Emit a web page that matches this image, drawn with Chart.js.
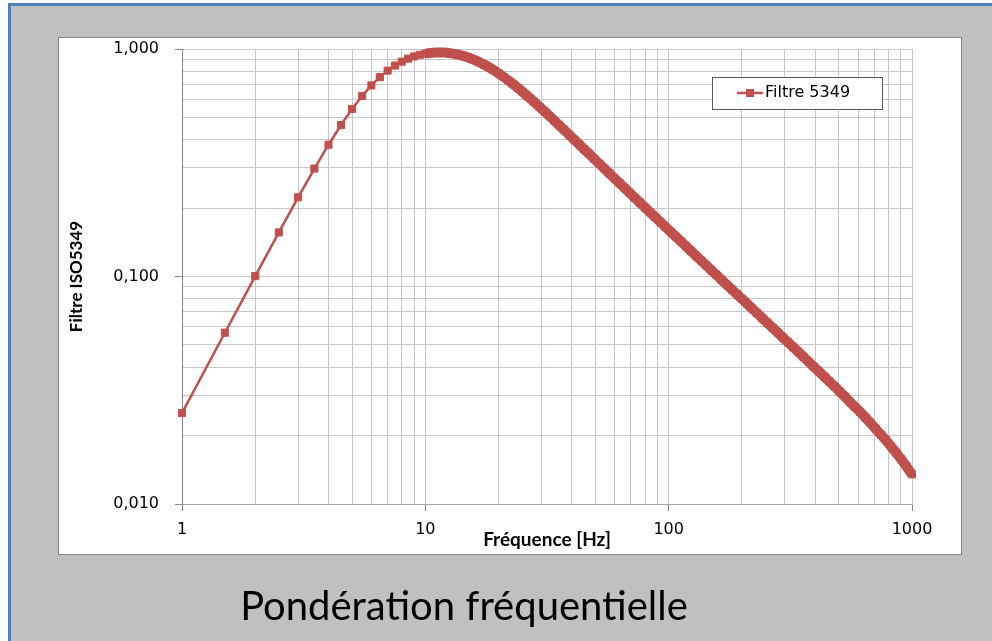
<!DOCTYPE html>
<html>
<head>
<meta charset="utf-8">
<script src="https://cdn.jsdelivr.net/npm/chart.js@4/dist/chart.umd.min.js"></script>
<style>
  html, body { margin: 0; padding: 0; background: #fff; }
  #wrap { position: relative; width: 992px; height: 641px; }
</style>
</head>
<body>
<div id="wrap"><canvas id="filtreChart" width="992" height="641"></canvas></div>
<script>
// Frequencies (Hz) and ISO 5349 weighting
const freqHz = [1, 1.5, 2, 2.5, 3, 3.5, 4, 4.5, 5, 5.5, 6, 6.5, 7, 7.5, 8, 8.5, 9, 9.5, 10, 10.5,
    11, 11.5, 12, 12.5, 13, 13.5, 14, 14.5, 15, 15.5, 16, 16.5, 17, 17.5, 18, 18.5, 19, 19.5, 20,
    21, 22, 23, 24, 25, 26, 27, 28, 29.5, 31, 32.5, 34, 35.5, 37, 39, 41, 43, 45, 47, 49.5,
    52, 54.5, 57, 60, 63, 66, 69, 72.5, 76, 80, 84, 88, 92.5, 97, 102, 107, 112, 118, 124,
    130, 136, 143, 150, 157, 165, 173, 182, 191, 200, 210, 220, 231, 243, 255, 268, 281, 295,
    310, 325, 341, 358, 376, 395, 415, 436, 457, 480, 504, 529, 556, 583, 612, 643, 675, 709,
    744, 781, 820, 861, 904, 950, 1000];

const filtre5349 = [0.0251, 0.0566, 0.1004, 0.1562, 0.2229, 0.2982, 0.3795, 0.4631, 0.5451, 0.6221,
    0.6916, 0.7521, 0.8034, 0.8457, 0.8798, 0.9069, 0.9277, 0.9431, 0.9541, 0.9612,
    0.9650, 0.9659, 0.9643, 0.9603, 0.9547, 0.9474, 0.9386, 0.9286, 0.9176, 0.9058,
    0.8932, 0.8800, 0.8664, 0.8525, 0.8383, 0.8241, 0.8098, 0.7955, 0.7813,
    0.7532, 0.7259, 0.6996, 0.6743, 0.6502, 0.6273, 0.6055, 0.5849, 0.5561, 0.5296,
    0.5052, 0.4828, 0.4621, 0.4430, 0.4198, 0.3988, 0.3797, 0.3623, 0.3465, 0.3285,
    0.3122, 0.2976, 0.2842, 0.2696, 0.2565, 0.2445, 0.2337, 0.2221, 0.2117, 0.2009,
    0.1912, 0.1824, 0.1734, 0.1652, 0.1570, 0.1497, 0.1429, 0.1356, 0.1289,
    0.1229, 0.1175, 0.1117, 0.1064, 0.1017, 0.0967, 0.0922, 0.0876, 0.0835, 0.0797,
    0.0759, 0.0724, 0.0690, 0.0655, 0.0624, 0.0594, 0.0566, 0.0539,
    0.0513, 0.0489, 0.0466, 0.0444, 0.0422, 0.0401, 0.0382, 0.0363, 0.0346, 0.0329,
    0.0312, 0.0297, 0.0281, 0.0267, 0.0254, 0.0240, 0.0227, 0.0214,
    0.0202, 0.0191, 0.0179, 0.0168, 0.0157, 0.0146, 0.0135];

// Grid lines and labelled ticks
const xGridValues = [1, 2, 3, 4, 5, 6, 7, 8, 9, 10, 20, 30, 40, 50, 60, 70, 80, 90,
    100, 200, 300, 400, 500, 600, 700, 800, 900, 1000];
const yGridValues = [0.01, 0.02, 0.03, 0.04, 0.05, 0.06, 0.07, 0.08, 0.09,
    0.1, 0.2, 0.3, 0.4, 0.5, 0.6, 0.7, 0.8, 0.9, 1];
const xTickLabels = [1, 10, 100, 1000];
const yTickLabels = [0.01, 0.1, 1];

const seriesLabel = "Filtre 5349";
const seriesColor = "#C0504D";
// above this frequency the markers sit so close they merge into one thick band
const denseFrom = 10;

// Page background: grey sheet with blue frame and white chart panel
const backdrop = {
    id: "backdrop",
    beforeDraw(chart) {
        const c = chart.ctx;
        c.save();
        c.fillStyle = "#ffffff";
        c.fillRect(0, 0, chart.width, chart.height);
        c.fillStyle = "#4f7fb4";
        c.fillRect(8, 3, chart.width - 8, chart.height - 3);
        c.fillStyle = "#c0c0c0";
        c.fillRect(11, 6, chart.width - 11, chart.height - 6);
        c.fillStyle = "#ffffff";
        c.fillRect(58, 37, 903, 517);
        c.strokeStyle = "#878787";
        c.lineWidth = 1;
        c.strokeRect(58.5, 37.5, 903, 517);
        c.restore();
    }
};

// Legend box inside the plot, top right
const boxLegend = {
    id: "boxLegend",
    afterDatasetsDraw(chart) {
        const c = chart.ctx;
        const ds = chart.data.datasets[0];
        const x = 712, y = 77, w = 170, h = 32;
        const midY = y + h / 2;
        c.save();
        c.fillStyle = "#ffffff";
        c.fillRect(x, y, w, h);
        c.strokeStyle = "#595959";
        c.lineWidth = 1;
        c.strokeRect(x + 0.5, y + 0.5, w, h);
        c.strokeStyle = ds.borderColor;
        c.lineWidth = 2.5;
        c.beginPath();
        c.moveTo(737, midY);
        c.lineTo(763, midY);
        c.stroke();
        c.fillStyle = ds.borderColor;
        c.fillRect(746, midY - 4, 8, 8);
        c.fillStyle = "#000000";
        c.font = "16px 'DejaVu Sans'";
        c.textBaseline = "middle";
        c.textAlign = "left";
        c.fillText(ds.label, 765, midY);
        c.restore();
    }
};

function tickMarkColor(labels) {
    return ctx => (ctx.tick && labels.includes(ctx.tick.value)) ? "#868686" : "rgba(0,0,0,0)";
}

const ctx = document.getElementById("filtreChart").getContext("2d");

const filtreChart = new Chart(ctx, {
    type: "line",
    data: {
        datasets: [{
            label: seriesLabel,
            data: freqHz.map((f, i) => ({ x: f, y: filtre5349[i] })),
            borderColor: seriesColor,
            backgroundColor: seriesColor,
            borderWidth: 2.5,
            borderJoinStyle: "round",
            segment: {
                borderWidth: c => c.p0.parsed.x >= denseFrom ? 10 : 2.5
            },
            pointStyle: "rect",
            pointRadius: 5,
            pointBorderWidth: 1,
            pointBackgroundColor: seriesColor,
            pointBorderColor: seriesColor,
            tension: 0,
            clip: false
        }]
    },
    plugins: [backdrop, boxLegend],
    options: {
        responsive: false,
        animation: false,
        events: [],
        layout: { padding: { top: 49, left: 16, right: 80, bottom: 0 } },
        plugins: {
            legend: { display: false },
            tooltip: { enabled: false },
            title: {
                display: true,
                position: "bottom",
                text: "Pondération fréquentielle",
                color: "#000000",
                font: { family: "Lato", size: 40, weight: "normal" },
                padding: { top: 29, bottom: 10 }
            }
        },
        scales: {
            x: {
                type: "logarithmic",
                min: 1,
                max: 1000,
                afterBuildTicks: scale => { scale.ticks = xGridValues.map(v => ({ value: v })); },
                afterFit: scale => { scale.height = 50; },
                ticks: {
                    autoSkip: false,
                    maxRotation: 0,
                    padding: 9,
                    color: "#000000",
                    font: { family: "DejaVu Sans", size: 16 },
                    callback: value => xTickLabels.includes(value) ? String(value) : ""
                },
                grid: {
                    color: "#c6c6c6",
                    lineWidth: 1,
                    tickLength: 7,
                    tickColor: tickMarkColor(xTickLabels)
                },
                border: { color: "#a6a6a6", width: 1 },
                title: {
                    display: true,
                    text: "Fréquence [Hz]",
                    color: "#000000",
                    font: { family: "Lato", size: 19, weight: "bold" },
                    padding: { top: 0, bottom: 3 }
                }
            },
            y: {
                type: "logarithmic",
                min: 0.01,
                max: 1,
                afterBuildTicks: scale => { scale.ticks = yGridValues.map(v => ({ value: v })); },
                afterFit: scale => { scale.width = 166; },
                ticks: {
                    autoSkip: false,
                    padding: 16,
                    color: "#000000",
                    font: { family: "DejaVu Sans", size: 16 },
                    callback: value => yTickLabels.includes(value) ? value.toFixed(3).replace(".", ",") : ""
                },
                grid: {
                    color: "#c6c6c6",
                    lineWidth: 1,
                    tickLength: 7,
                    tickColor: tickMarkColor(yTickLabels)
                },
                border: { color: "#868686", width: 1 },
                title: {
                    display: true,
                    text: "Filtre ISO5349",
                    color: "#000000",
                    font: { family: "Lato", size: 17, weight: "bold" },
                    padding: { top: 50, bottom: 0 }
                }
            }
        }
    }
});
</script>
</body>
</html>
